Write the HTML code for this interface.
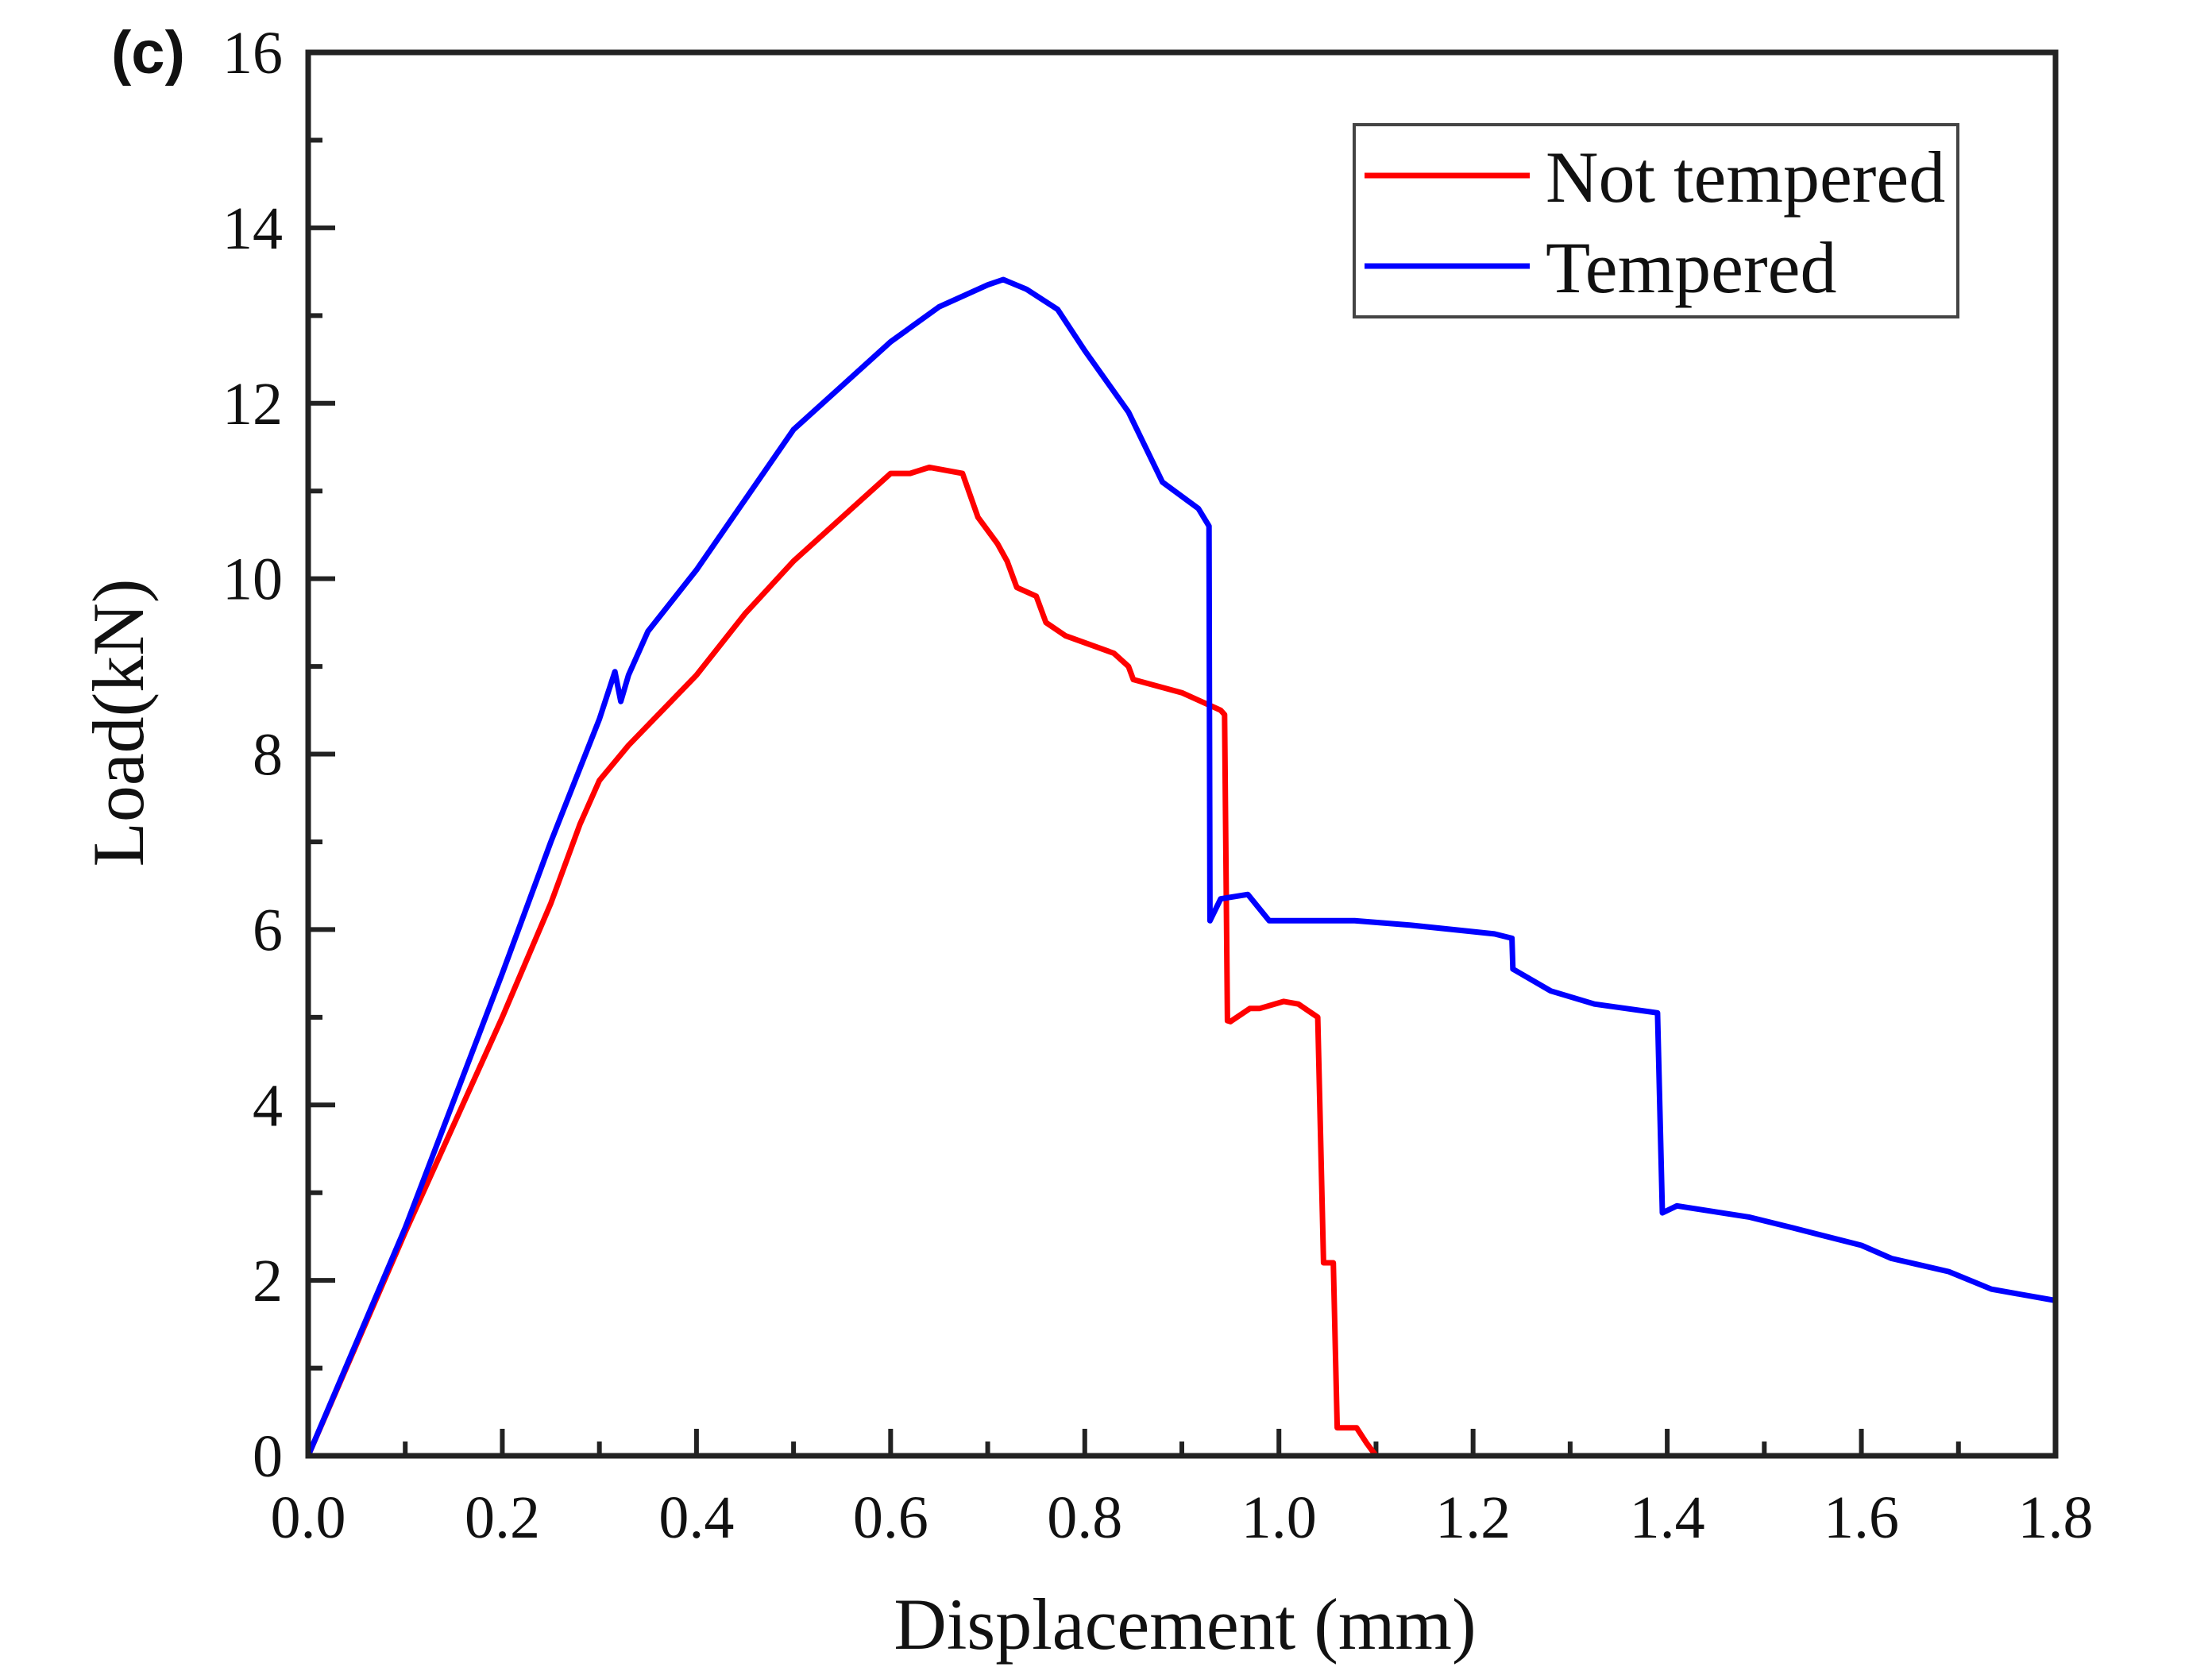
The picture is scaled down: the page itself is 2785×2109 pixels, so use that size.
<!DOCTYPE html>
<html><head><meta charset="utf-8"><style>
html,body{margin:0;padding:0;background:#fff;}
svg{display:block;}
text{font-family:"Liberation Serif",serif;fill:#111;}
</style></head><body>
<svg id="chart" width="2785" height="2109" viewBox="0 0 2785 2109">
<rect width="2785" height="2109" fill="#fff"/>
<text x="140" y="92" style="font-family:'Liberation Sans',sans-serif;font-weight:bold;font-size:76px">(c)</text>
<g id="ticks"></g>
<g id="series"></g>
<rect x="388" y="66" width="2200" height="1767" fill="none" stroke="#222" stroke-width="7"/>
<text x="1492" y="2076" text-anchor="middle" font-size="92">Displacement (mm)</text>
<text transform="translate(180,910) rotate(-90)" text-anchor="middle" font-size="92">Load(kN)</text>
<g>
<rect x="1705" y="157" width="760" height="242" fill="#fff" stroke="#444" stroke-width="4"/>
<line x1="1718" y1="221" x2="1926" y2="221" stroke="#ff0000" stroke-width="7"/>
<text x="1946" y="254" font-size="92">Not tempered</text>
<line x1="1718" y1="335" x2="1926" y2="335" stroke="#0000ff" stroke-width="7"/>
<text x="1946" y="368" font-size="92">Tempered</text>
</g>
</svg>
<script>
const xTicks = [0.0,0.2,0.4,0.6,0.8,1.0,1.2,1.4,1.6,1.8];
const xTickLabels = ["0.0","0.2","0.4","0.6","0.8","1.0","1.2","1.4","1.6","1.8"];
const yTicks = [0,2,4,6,8,10,12,14,16];
const yTickLabels = ["0","2","4","6","8","10","12","14","16"];
const notTemperedX = [0,0.1,0.2,0.25,0.28,0.3,0.33,0.4,0.45,0.5,0.55,0.6,0.62,0.64,0.674,0.69,0.71,0.72,0.73,0.75,0.76,0.78,0.83,0.845,0.85,0.9,0.94,0.944,0.947,0.95,0.97,0.98,1.005,1.02,1.04,1.046,1.056,1.06,1.08,1.09,1.1];
const notTemperedY = [0,2.55,5.0,6.3,7.2,7.7,8.1,8.9,9.6,10.2,10.7,11.2,11.2,11.27,11.2,10.7,10.4,10.2,9.9,9.8,9.5,9.35,9.15,9.0,8.85,8.7,8.5,8.45,4.96,4.95,5.1,5.1,5.18,5.15,5.0,2.2,2.2,0.32,0.32,0.15,0];
const temperedX = [0,0.1,0.2,0.25,0.3,0.316,0.322,0.33,0.35,0.4,0.45,0.5,0.55,0.6,0.65,0.7,0.716,0.74,0.772,0.8,0.845,0.88,0.917,0.928,0.929,0.94,0.968,0.99,1.078,1.136,1.222,1.24,1.241,1.28,1.325,1.39,1.395,1.41,1.485,1.529,1.6,1.631,1.69,1.734,1.8];
const temperedY = [0,2.6,5.5,7.0,8.4,8.94,8.6,8.9,9.4,10.1,10.9,11.7,12.2,12.7,13.1,13.35,13.41,13.3,13.07,12.6,11.9,11.1,10.8,10.6,6.1,6.35,6.4,6.1,6.1,6.05,5.95,5.9,5.55,5.3,5.15,5.05,2.77,2.85,2.72,2.6,2.4,2.25,2.1,1.9,1.77];

const L=388,R=2588,T=66,B=1833;
const xS=v=>L+(v-0)/(1.8-0)*(R-L);
const yS=v=>B-(v-0)/(16-0)*(B-T);
const NS='http://www.w3.org/2000/svg';
const tg=document.getElementById('ticks');
function mk(tag,attrs,parent){const e=document.createElementNS(NS,tag);for(const k in attrs)e.setAttribute(k,attrs[k]);parent.appendChild(e);return e;}
xTicks.forEach((v,i)=>{
  const t=mk('line',{x1:xS(v),x2:xS(v),y1:B,y2:B-34,stroke:'#222','stroke-width':6},tg);
  
  
  if(i<xTicks.length-1){
    const m=mk('line',{x1:xS(v+0.1),x2:xS(v+0.1),y1:B,y2:B-18,stroke:'#222','stroke-width':6},tg);
    
    
  }
  const lb=mk('text',{x:xS(v),y:1936,'text-anchor':'middle','font-size':76},tg);
  lb.textContent=xTickLabels[i];
  
  
});
yTicks.forEach((v,i)=>{
  const t=mk('line',{x1:L,x2:L+34,y1:yS(v),y2:yS(v),stroke:'#222','stroke-width':6},tg);
  
  
  if(i<yTicks.length-1){
    const m=mk('line',{x1:L,x2:L+18,y1:yS(v+1),y2:yS(v+1),stroke:'#222','stroke-width':6},tg);
    
    
  }
  const lb=mk('text',{x:356,y:yS(v)+26,'text-anchor':'end','font-size':76},tg);
  lb.textContent=yTickLabels[i];
  
  
});
const sg=document.getElementById('series');
function drawLine(xs,ys,color,name){
  const d=xs.map((x,i)=>(i?'L':'M')+xS(x).toFixed(1)+' '+yS(ys[i]).toFixed(1)).join(' ');
  const p=mk('path',{d:d,fill:'none',stroke:color,'stroke-width':7,'stroke-linejoin':'round'},sg);
  
  
}
drawLine(notTemperedX,notTemperedY,'#ff0000','not-tempered-line');
drawLine(temperedX,temperedY,'#0000ff','tempered-line');
</script>
</body></html>
